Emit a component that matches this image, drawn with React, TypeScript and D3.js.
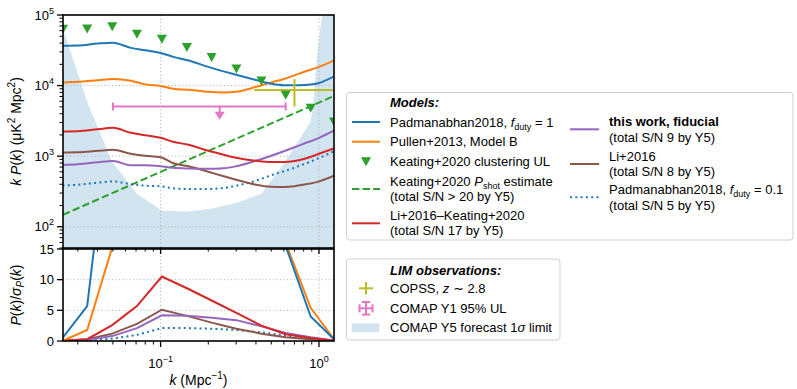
import React from 'react';
import * as d3 from 'd3';

const W = 797;
const H = 389;
const FONT = '"Liberation Sans", Arial, Helvetica, sans-serif';

// COMAP k bins (Mpc^-1)
const kBins = [0.0242, 0.0344, 0.0495, 0.0709, 0.1019, 0.1466, 0.210, 0.301, 0.433, 0.616, 0.886, 1.244];
// k grid for the smooth model curves
const kModel = [0.024, 0.03, 0.04, 0.05, 0.065, 0.08, 0.1, 0.12, 0.15, 0.2, 0.25, 0.3, 0.4, 0.5, 0.6, 0.7, 0.8, 1.0, 1.24];

// k P(k) in uK^2 Mpc^2
const padmanabhanF1 = [36800, 37000, 39500, 40600, 34200, 31700, 29000, 25500, 22700, 18400, 15900, 14200, 12000, 10600, 10100, 10100, 10200, 10900, 13400];
const pullenB = [11000, 11300, 11900, 12400, 11700, 10400, 9900, 9000, 8700, 8150, 7960, 8150, 9600, 11100, 12400, 13950, 15600, 18400, 22600];
const liKeating = [2234, 2250, 2400, 2520, 2140, 1980, 1820, 1600, 1450, 1190, 1047, 950, 860, 826, 826, 853, 910, 1081, 1285];
const li2016 = [1127, 1135, 1190, 1233, 1081, 1014, 965, 794, 720, 601, 520, 464, 394, 369, 366, 375, 394, 439, 528];
const thisWork = [755, 768, 820, 855, 743, 743, 720, 686, 670, 663, 674, 720, 860, 1014, 1172, 1337, 1497, 1820, 2290];
const padmanabhanF01 = [385, 394, 420, 438, 401, 381, 375, 351, 343, 343, 354, 381, 449, 537, 611, 686, 768, 940, 1170];

const kShot = [0.0242, 1.244];
const keatingShot = [148, 7140];
const keatingUL = [62800, 63400, 68300, 53300, 45300, 34500, 24900, 17200, 11650, 7320, 4790, 3040];

// COMAP Y5 forecast 1 sigma limit
const kForecast = [0.0242, 0.0344, 0.0495, 0.0709, 0.1019, 0.1466, 0.210, 0.301, 0.433, 0.616, 0.886, 0.926, 0.967, 1.018, 1.048, 1.1, 1.244];
const sigmaForecast = [63400, 5870, 834, 294, 169, 164, 180, 219, 294, 861, 3070, 6280, 23100, 61400, 100000, 1e6, 1e6];

// observations
const copss = { k: 0.70, kLo: 0.39, kHi: 1.6, v: 8690, vLo: 5050, vHi: 12300 };
const comapY1 = { k: 0.236, kLo: 0.05, kHi: 0.616, v: 5050, vArrow: 3270 };

// S/N per bin
const snPadF1 = [0.6, 5.7, 40, 90, 150, 180, 150, 100, 50, 15.5, 4.0, 0.3];
const snPullen = [0.05, 1.8, 15.3, 60, 110, 120, 100, 70, 40, 16, 5.4, 0.3];
const snLiKeating = [0.05, 0.3, 2.6, 5.7, 10.5, 8.6, 6.6, 4.6, 2.5, 1.1, 0.5, 0.05];
const snLi2016 = [0.05, 0.3, 1.2, 2.8, 5.1, 4.1, 3.0, 2.0, 1.2, 0.6, 0.3, 0.05];
const snThisWork = [0.05, 0.2, 0.8, 2.1, 4.2, 4.1, 3.8, 3.4, 2.4, 1.3, 0.6, 0.1];
const snPadF01 = [0.02, 0.1, 0.4, 1.0, 2.1, 2.1, 2.0, 1.8, 1.4, 0.9, 0.4, 0.05];

const C = {
  blue: '#1f77b4', orange: '#ff7f0e', green: '#2ca02c', red: '#d62728',
  purple: '#9467bd', brown: '#8c564b', pink: '#e377c2', olive: '#bcbd22',
};

const L = 63, R = 334, T1 = 15, B1 = 248, T2 = 249, B2 = 341;

const x = d3.scaleLog().domain([kBins[0], kBins[kBins.length - 1]]).range([L, R]);
const yTop = d3.scaleLog().domain([50, 1e5]).range([B1, T1]);
const yBot = d3.scaleLinear().domain([0, 15]).range([B2, T2]);

const DOT = '2,3.3';
const DASH = '7.4,3.2';

function App() {
  const smooth = (ks: number[]) => d3.line<number>().x((_, i) => x(ks[i])).y(d => yTop(d)).curve(d3.curveMonotoneX);
  const lin = (ks: number[]) => d3.line<number>().x((_, i) => x(ks[i])).y(d => yTop(d));
  const snLine = d3.line<number>().x((_, i) => x(kBins[i])).y(d => yBot(d));
  const forecastArea = d3.area<number>().x((_, i) => x(kForecast[i])).y0(B1 + 5).y1(d => yTop(d));

  const topModels = [
    { d: padmanabhanF01, c: C.blue, dash: DOT },
    { d: li2016, c: C.brown },
    { d: thisWork, c: C.purple },
    { d: liKeating, c: C.red },
    { d: pullenB, c: C.orange },
    { d: padmanabhanF1, c: C.blue },
  ];
  const botModels = [
    { d: snPadF01, c: C.blue, dash: DOT },
    { d: snLi2016, c: C.brown },
    { d: snThisWork, c: C.purple },
    { d: snLiKeating, c: C.red },
    { d: snPullen, c: C.orange },
    { d: snPadF1, c: C.blue },
  ];

  const xMajor = [0.1, 1];
  const xMinor = [0.03, 0.04, 0.05, 0.06, 0.07, 0.08, 0.09, 0.2, 0.3, 0.4, 0.5, 0.6, 0.7, 0.8, 0.9];
  const yMajor = [1e2, 1e3, 1e4, 1e5];
  const yMinor: number[] = [];
  [10, 100, 1000, 10000].forEach(dec => { for (let m = 2; m <= 9; m++) { const v = dec * m; if (v >= 50 && v < 1e5) yMinor.push(v); } });
  const botMajor = [0, 5, 10, 15];

  const tri = (cx: number, cy: number) => `M${cx - 5},${cy - 4.5}L${cx + 5},${cy - 4.5}L${cx},${cy + 4.5}Z`;
  const grid = '#b0b0b0';
  const expLabel = (v: number) => {
    const e = Math.round(Math.log10(v));
    return e < 0 ? '\u2212' + (-e) : String(e);
  };

  return (
    <svg width={W} height={H} style={{ position: 'absolute', left: 0, top: 0, background: '#fff' }} fontFamily={FONT}>
      <defs>
        <clipPath id="clipTop"><rect x={L} y={T1} width={R - L} height={B1 - T1} /></clipPath>
        <clipPath id="clipBot"><rect x={L} y={T2} width={R - L} height={B2 - T2} /></clipPath>
      </defs>

      {/* top panel */}
      <g clipPath="url(#clipTop)">
        <path d={forecastArea(sigmaForecast) || ''} fill={C.blue} fillOpacity={0.2} />
        {xMajor.map(v => <line key={v} x1={x(v)} x2={x(v)} y1={T1} y2={B1} stroke={grid} strokeDasharray="1,2.5" />)}
        {yMajor.map(v => <line key={v} x1={L} x2={R} y1={yTop(v)} y2={yTop(v)} stroke={grid} strokeDasharray="1,2.5" />)}
        <path d={lin(kShot)(keatingShot) || ''} fill="none" stroke={C.green} strokeWidth={2} strokeDasharray={DASH} />
        {topModels.map((m, i) => (
          <path key={i} d={smooth(kModel)(m.d) || ''} fill="none" stroke={m.c} strokeWidth={2} strokeDasharray={m.dash} />
        ))}
        {/* COPSS */}
        <line x1={x(copss.kLo)} x2={x(copss.kHi)} y1={yTop(copss.v)} y2={yTop(copss.v)} stroke={C.olive} strokeWidth={2} />
        <line x1={x(copss.k)} x2={x(copss.k)} y1={yTop(copss.vLo)} y2={yTop(copss.vHi)} stroke={C.olive} strokeWidth={2} />
        {/* COMAP Y1 upper limit */}
        <line x1={x(comapY1.kLo)} x2={x(comapY1.kHi)} y1={yTop(comapY1.v)} y2={yTop(comapY1.v)} stroke={C.pink} strokeWidth={2} />
        {[comapY1.kLo, comapY1.kHi].map(k => (
          <line key={k} x1={x(k)} x2={x(k)} y1={yTop(comapY1.v) - 4} y2={yTop(comapY1.v) + 4} stroke={C.pink} strokeWidth={2} />
        ))}
        <line x1={x(comapY1.k)} x2={x(comapY1.k)} y1={yTop(comapY1.v)} y2={yTop(comapY1.vArrow) - 6} stroke={C.pink} strokeWidth={2} />
        <path d={`M${x(comapY1.k) - 5},${yTop(comapY1.vArrow) - 8}L${x(comapY1.k) + 5},${yTop(comapY1.vArrow) - 8}L${x(comapY1.k)},${yTop(comapY1.vArrow)}Z`} fill={C.pink} />
        {keatingUL.map((v, i) => <path key={i} d={tri(x(kBins[i]), yTop(v))} fill={C.green} />)}
      </g>

      {/* bottom panel */}
      <g clipPath="url(#clipBot)">
        {xMajor.map(v => <line key={v} x1={x(v)} x2={x(v)} y1={T2} y2={B2} stroke={grid} strokeDasharray="1,2.5" />)}
        {[5, 10].map(v => <line key={v} x1={L} x2={R} y1={yBot(v)} y2={yBot(v)} stroke={grid} strokeDasharray="1,2.5" />)}
        {botModels.map((m, i) => (
          <path key={i} d={snLine(m.d) || ''} fill="none" stroke={m.c} strokeWidth={2} strokeDasharray={m.dash} />
        ))}
      </g>

      {/* ticks */}
      <g stroke="#000">
        {yMajor.map(v => <line key={v} x1={L - 6} x2={L} y1={yTop(v)} y2={yTop(v)} strokeWidth={1.3} />)}
        {yMinor.map(v => <line key={v} x1={L - 3.5} x2={L} y1={yTop(v)} y2={yTop(v)} strokeWidth={1} />)}
        {botMajor.map(v => <line key={v} x1={L - 6} x2={L} y1={yBot(v)} y2={yBot(v)} strokeWidth={1.3} />)}
        {xMajor.map(v => <line key={'a' + v} x1={x(v)} x2={x(v)} y1={B1} y2={B1 + 6} strokeWidth={1.3} />)}
        {xMinor.map(v => <line key={'b' + v} x1={x(v)} x2={x(v)} y1={B1} y2={B1 + 3.5} strokeWidth={1} />)}
        {xMajor.map(v => <line key={'c' + v} x1={x(v)} x2={x(v)} y1={B2} y2={B2 + 6} strokeWidth={1.3} />)}
        {xMinor.map(v => <line key={'d' + v} x1={x(v)} x2={x(v)} y1={B2} y2={B2 + 3.5} strokeWidth={1} />)}
      </g>
      <rect x={L} y={T1} width={R - L} height={B1 - T1} fill="none" stroke="#000" strokeWidth={1.6} />
      <rect x={L} y={T2} width={R - L} height={B2 - T2} fill="none" stroke="#000" strokeWidth={1.6} />

      {/* tick labels */}
      <g fontSize={13} fill="#000">
        {yMajor.map(v => (
          <text key={v} x={L - 9} y={yTop(v) + 4.5} textAnchor="end">
            10<tspan fontSize={9} dy={-6}>{expLabel(v)}</tspan>
          </text>
        ))}
        {botMajor.map(v => <text key={v} x={L - 9} y={yBot(v) + 4.5} textAnchor="end">{v}</text>)}
        {xMajor.map(v => (
          <text key={v} x={x(v)} y={368} textAnchor="middle">
            10<tspan fontSize={9} dy={-6}>{expLabel(v)}</tspan>
          </text>
        ))}
      </g>

      {/* axis labels */}
      <text transform={`translate(${21},${(T1 + B1) / 2}) rotate(-90)`} textAnchor="middle" fontSize={14}>
        <tspan fontStyle="italic">k</tspan> <tspan fontStyle="italic">P</tspan>(<tspan fontStyle="italic">k</tspan>) (μK<tspan fontSize={10} dy={-6}>2</tspan><tspan dy={6}> Mpc</tspan><tspan fontSize={10} dy={-6}>2</tspan><tspan dy={6}>)</tspan>
      </text>
      <text transform={`translate(${21},${(T2 + B2) / 2}) rotate(-90)`} textAnchor="middle" fontSize={14}>
        <tspan fontStyle="italic">P</tspan>(<tspan fontStyle="italic">k</tspan>)/<tspan fontStyle="italic">σ</tspan><tspan fontStyle="italic" fontSize={10} dy={3}>P</tspan><tspan dy={-3}>(</tspan><tspan fontStyle="italic">k</tspan>)
      </text>
      <text x={(L + R) / 2} y={385} textAnchor="middle" fontSize={14}>
        <tspan fontStyle="italic">k</tspan> (Mpc<tspan fontSize={10} dy={-6}>{'\u22121'}</tspan><tspan dy={6}>)</tspan>
      </text>

      {/* legend: models */}
      <g fontSize={13}>
        <rect x={346.5} y={92.5} width={446.5} height={147.5} rx={3} fill="#fff" stroke="#d0d0d0" />
        <text x={390} y={107} fontWeight="bold" fontStyle="italic">Models:</text>

        <line x1={352} x2={380} y1={122} y2={122} stroke={C.blue} strokeWidth={2} />
        <text x={390} y={127}>Padmanabhan2018, <tspan fontStyle="italic">f</tspan><tspan fontSize={9} dy={3}>duty</tspan><tspan dy={-3}> = 1</tspan></text>

        <line x1={352} x2={380} y1={141.7} y2={141.7} stroke={C.orange} strokeWidth={2} />
        <text x={390} y={146.3}>Pullen+2013, Model B</text>

        <path d={tri(366, 161.7)} fill={C.green} />
        <text x={390} y={166.3}>Keating+2020 clustering UL</text>

        <line x1={352} x2={380} y1={189} y2={189} stroke={C.green} strokeWidth={2} strokeDasharray={DASH} />
        <text x={390} y={185.6}>Keating+2020 <tspan fontStyle="italic">P</tspan><tspan fontSize={9} dy={3}>shot</tspan><tspan dy={-3}> estimate</tspan></text>
        <text x={390} y={201.3}>(total S/N &gt; 20 by Y5)</text>

        <line x1={352} x2={380} y1={223.3} y2={223.3} stroke={C.red} strokeWidth={2} />
        <text x={390} y={219.6}>Li+2016–Keating+2020</text>
        <text x={390} y={235}>(total S/N 17 by Y5)</text>

        <line x1={570} x2={599} y1={129.3} y2={129.3} stroke={C.purple} strokeWidth={2} />
        <text x={609} y={126.3} fontWeight="bold">this work, fiducial</text>
        <text x={609} y={141.5}>(total S/N 9 by Y5)</text>

        <line x1={570} x2={599} y1={164} y2={164} stroke={C.brown} strokeWidth={2} />
        <text x={609} y={160.6}>Li+2016</text>
        <text x={609} y={176}>(total S/N 8 by Y5)</text>

        <line x1={570} x2={599} y1={197.3} y2={197.3} stroke={C.blue} strokeWidth={2} strokeDasharray={DOT} />
        <text x={609} y={194}>Padmanabhan2018, <tspan fontStyle="italic">f</tspan><tspan fontSize={9} dy={3}>duty</tspan><tspan dy={-3}> = 0.1</tspan></text>
        <text x={609} y={209.5}>(total S/N 5 by Y5)</text>
      </g>

      {/* legend: observations */}
      <g fontSize={13}>
        <rect x={346.5} y={259} width={213.5} height={81} rx={3} fill="#fff" stroke="#d0d0d0" />
        <text x={390} y={274.6} fontWeight="bold" fontStyle="italic">LIM observations:</text>

        <line x1={359} x2={373} y1={288.3} y2={288.3} stroke={C.olive} strokeWidth={2} />
        <line x1={366} x2={366} y1={282} y2={294.6} stroke={C.olive} strokeWidth={2} />
        <text x={390} y={293}>COPSS, <tspan fontStyle="italic">z</tspan> ∼ 2.8</text>

        <g stroke={C.pink} strokeWidth={2}>
          <line x1={359.5} x2={372.5} y1={308.3} y2={308.3} />
          <line x1={366} x2={366} y1={302} y2={314.6} />
          <line x1={359.5} x2={359.5} y1={304.3} y2={312.3} />
          <line x1={372.5} x2={372.5} y1={304.3} y2={312.3} />
          <line x1={362} x2={370} y1={302} y2={302} />
          <line x1={362} x2={370} y1={314.6} y2={314.6} />
        </g>
        <text x={390} y={313}>COMAP Y1 95% UL</text>

        <rect x={351.7} y={323.3} width={27.6} height={9} fill={C.blue} fillOpacity={0.2} />
        <text x={390} y={332.3}>COMAP Y5 forecast 1<tspan fontStyle="italic">σ</tspan> limit</text>
      </g>
    </svg>
  );
}

export default App;
